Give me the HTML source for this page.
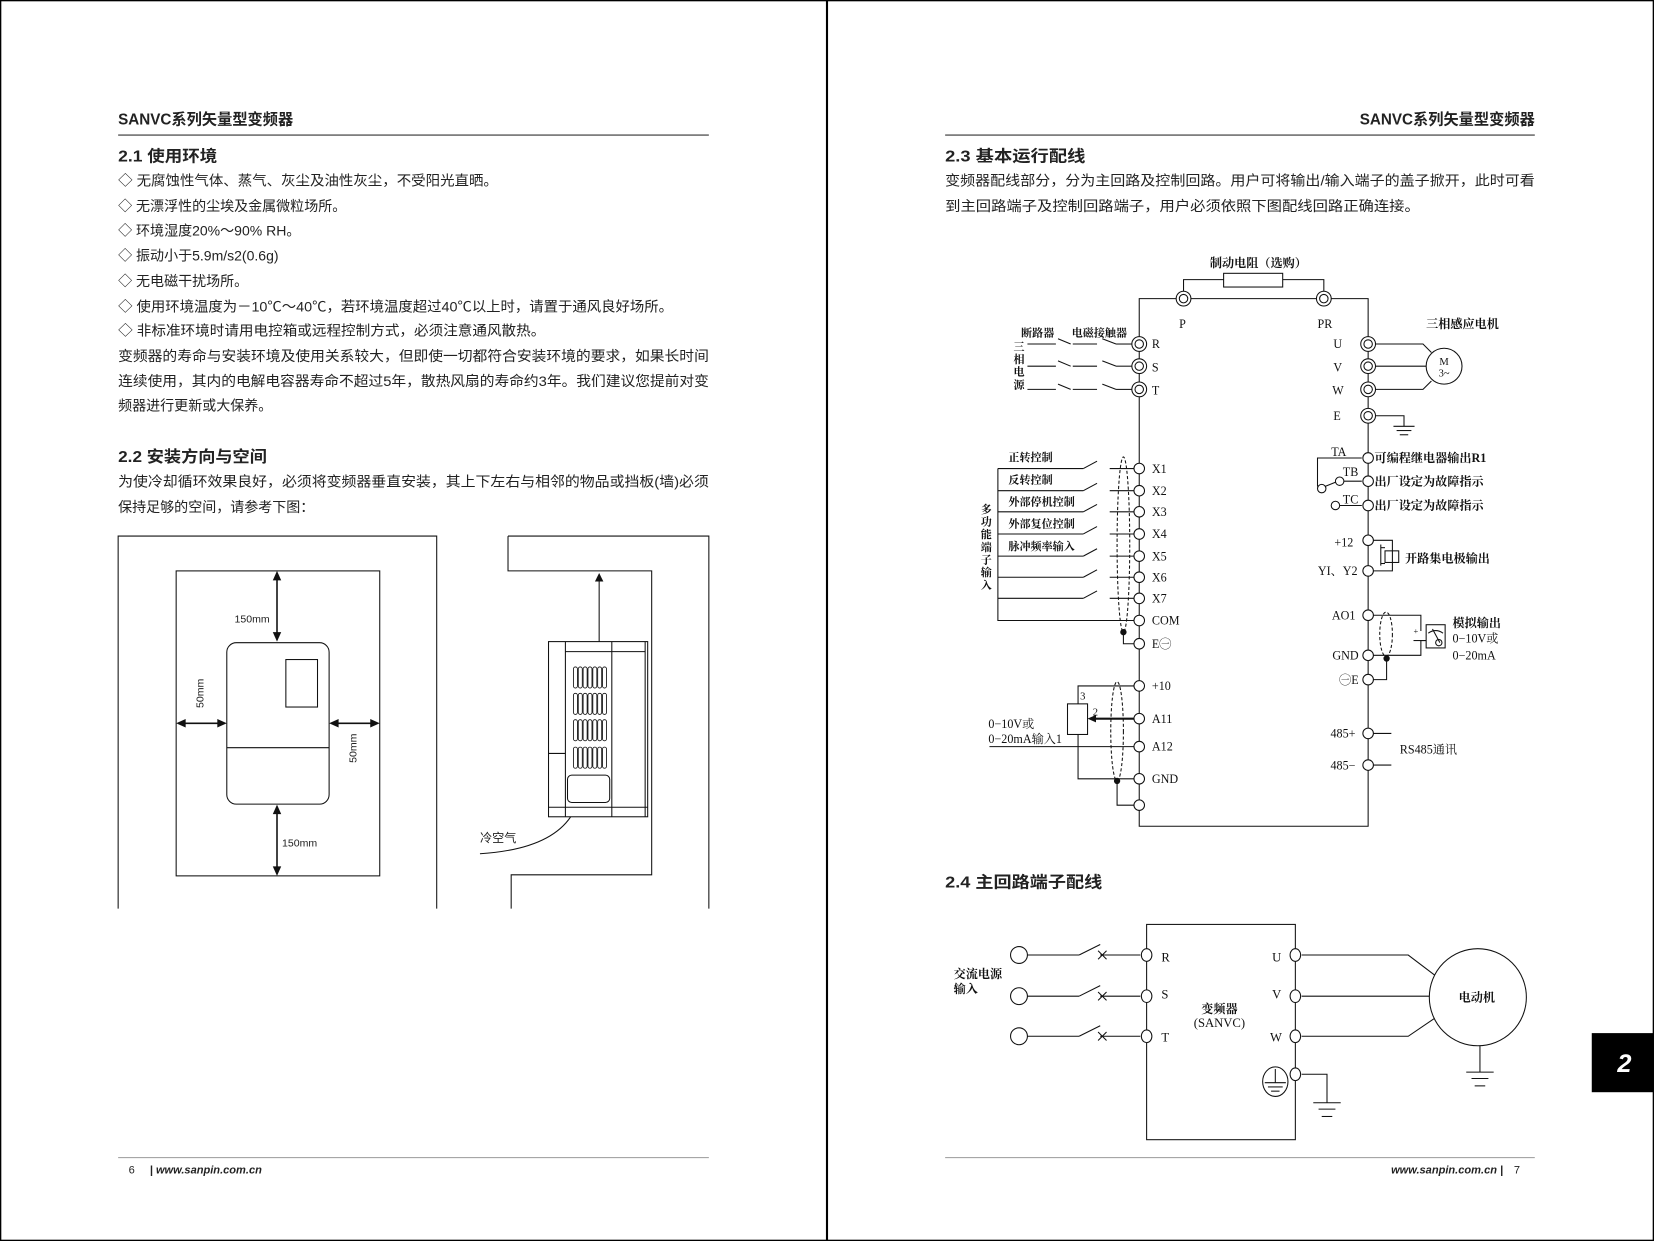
<!DOCTYPE html>
<html><head><meta charset="utf-8"><style>
html,body{margin:0;padding:0;background:#fff}
svg{display:block}
.s{font-family:"Liberation Sans","Noto Sans CJK SC",sans-serif;fill:#222}
.d{font-family:"Liberation Serif","Noto Serif CJK SC",serif;fill:#111}
</style></head><body>
<svg width="1654" height="1241" viewBox="0 0 1568 1176" preserveAspectRatio="none" xmlns="http://www.w3.org/2000/svg">
<rect x="0.5" y="0.5" width="1567" height="1175" fill="#fff" stroke="#000" stroke-width="1.5"/>
<line x1="784" y1="0" x2="784" y2="1176" stroke="#000" stroke-width="2"/>

<!-- LEFT PAGE -->
<g class="s">
<text x="112" y="118" font-size="14.5" font-weight="bold" textLength="166" lengthAdjust="spacingAndGlyphs">SANVC系列矢量型变频器</text>
<line x1="112" y1="128" x2="672" y2="128" stroke="#333" stroke-width="1"/>
<text x="112" y="153" font-size="15" font-weight="bold" textLength="94" lengthAdjust="spacingAndGlyphs">2.1 使用环境</text>
<g font-size="13.3">
<text x="112" y="176" textLength="360" lengthAdjust="spacingAndGlyphs">◇ 无腐蚀性气体、蒸气、灰尘及油性灰尘，不受阳光直晒。</text>
<text x="112" y="200">◇ 无漂浮性的尘埃及金属微粒场所。</text>
<text x="112" y="223">◇ 环境湿度20%～90% RH。</text>
<text x="112" y="247">◇ 振动小于5.9m/s2(0.6g)</text>
<text x="112" y="271">◇ 无电磁干扰场所。</text>
<text x="112" y="295" textLength="526" lengthAdjust="spacingAndGlyphs">◇ 使用环境温度为－10℃～40℃，若环境温度超过40℃以上时，请置于通风良好场所。</text>
<text x="112" y="318" textLength="405" lengthAdjust="spacingAndGlyphs">◇ 非标准环境时请用电控箱或远程控制方式，必须注意通风散热。</text>
<text x="112" y="342" textLength="560" lengthAdjust="spacingAndGlyphs">变频器的寿命与安装环境及使用关系较大，但即使一切都符合安装环境的要求，如果长时间</text>
<text x="112" y="366" textLength="560" lengthAdjust="spacingAndGlyphs">连续使用，其内的电解电容器寿命不超过5年，散热风扇的寿命约3年。我们建议您提前对变</text>
<text x="112" y="389">频器进行更新或大保养。</text>
</g>
<text x="112" y="438" font-size="15" font-weight="bold" textLength="141" lengthAdjust="spacingAndGlyphs">2.2 安装方向与空间</text>
<text x="112" y="461" font-size="13.3" textLength="560" lengthAdjust="spacingAndGlyphs">为使冷却循环效果良好，必须将变频器垂直安装，其上下左右与相邻的物品或挡板(墙)必须</text>
<text x="112" y="485" font-size="13.3">保持足够的空间，请参考下图：</text>
</g>

<g fill="none" stroke="#111" stroke-width="1">
<polyline points="112,861 112,508 414,508 414,861"/>
<rect x="167" y="541" width="193" height="289"/>
<rect x="215" y="609" width="97" height="153" rx="9"/>
<rect x="271" y="625" width="30" height="45"/>
<line x1="215" y1="708.5" x2="312" y2="708.5"/>
<line x1="262.6" y1="546" x2="262.6" y2="603" stroke-width="1.5"/>
<line x1="262.6" y1="768" x2="262.6" y2="825" stroke-width="1.5"/>
<line x1="172" y1="685.4" x2="210" y2="685.4" stroke-width="1.5"/>
<line x1="317" y1="685.4" x2="355" y2="685.4" stroke-width="1.5"/>
<polyline points="481.6,508 672,508 672,861"/>
<polyline points="481.6,508 481.6,541 617.8,541 617.8,829 484.6,829 484.6,861"/>
<rect x="520" y="608" width="94" height="166"/>
<line x1="536" y1="608" x2="536" y2="774"/>
<line x1="580" y1="608" x2="580" y2="774"/>
<line x1="611.6" y1="608" x2="611.6" y2="774"/>
<line x1="536" y1="617.5" x2="611.6" y2="617.5"/>
<line x1="520" y1="765" x2="614" y2="765"/>
<line x1="520" y1="714" x2="536" y2="714"/>
<rect x="538" y="734.5" width="40" height="26" rx="4"/>
<line x1="568" y1="608" x2="568" y2="548"/>
<path d="M455,809 Q520,805 541,774"/>
</g>
<g fill="#111">
<polygon points="262.6,541 258.6,550 266.6,550"/>
<polygon points="262.6,608 258.6,599 266.6,599"/>
<polygon points="262.6,762.5 258.6,771.5 266.6,771.5"/>
<polygon points="262.6,830 258.6,821 266.6,821"/>
<polygon points="167,685.4 176,681.4 176,689.4"/>
<polygon points="215,685.4 206,681.4 206,689.4"/>
<polygon points="312,685.4 321,681.4 321,689.4"/>
<polygon points="360,685.4 351,681.4 351,689.4"/>
<polygon points="568,543 564,551 572,551"/>
</g>
<g fill="none" stroke="#111" stroke-width="0.8" id="vents">
</g>
<g class="s" font-size="10" fill="#222">
<text x="239" y="590" text-anchor="middle">150mm</text>
<text x="284" y="802" text-anchor="middle">150mm</text>
<text transform="translate(193,657) rotate(-90)" text-anchor="middle">50mm</text>
<text transform="translate(338,709) rotate(-90)" text-anchor="middle">50mm</text>
<text x="455" y="798" font-size="11.5">冷空气</text>
</g>

<line x1="112" y1="1097" x2="672" y2="1097" stroke="#999" stroke-width="1"/>
<text x="122" y="1112" class="s" font-size="10.5" fill="#222">6</text>
<text x="142" y="1112" class="s" font-size="10.5" fill="#aaa" font-style="italic" font-weight="bold">| www.sanpin.com.cn</text>

<!-- RIGHT PAGE -->
<g class="s">
<text x="1455" y="118" font-size="14.5" font-weight="bold" text-anchor="end" textLength="166" lengthAdjust="spacingAndGlyphs">SANVC系列矢量型变频器</text>
<line x1="896" y1="128" x2="1455" y2="128" stroke="#333" stroke-width="1"/>
<text x="896" y="153" font-size="15" font-weight="bold" textLength="133" lengthAdjust="spacingAndGlyphs">2.3  基本运行配线</text>
<text x="896" y="176" font-size="13.3" textLength="559" lengthAdjust="spacingAndGlyphs">变频器配线部分，分为主回路及控制回路。用户可将输出/输入端子的盖子掀开，此时可看</text>
<text x="896" y="200" font-size="13.3" textLength="450" lengthAdjust="spacingAndGlyphs">到主回路端子及控制回路端子，用户必须依照下图配线回路正确连接。</text>
<text x="896" y="841" font-size="15" font-weight="bold" textLength="149" lengthAdjust="spacingAndGlyphs">2.4   主回路端子配线</text>
</g>
<line x1="896" y1="1097" x2="1455" y2="1097" stroke="#999" stroke-width="1"/>
<text x="1425" y="1112" class="s" font-size="10.5" fill="#aaa" font-style="italic" font-weight="bold" text-anchor="end">www.sanpin.com.cn |</text>
<text x="1441" y="1112" class="s" font-size="10.5" fill="#222" text-anchor="end">7</text>

<rect x="1509" y="979" width="59" height="56" fill="#000"/>
<text x="1540" y="1016" font-family="Liberation Sans,sans-serif" font-weight="bold" font-style="italic" font-size="24" fill="#fff" text-anchor="middle">2</text>

<!-- control wiring diagram -->
<g fill="none" stroke="#111" stroke-width="1">
<polyline points="1080,326 1080,283 1297,283 1297,783 1080,783 1080,326"/>
<polyline points="1122,276 1122,265 1160,265"/>
<polyline points="1216,265 1255,265 1255,276"/>
<rect x="1160" y="259" width="56" height="13"/>
<g>
<line x1="974" y1="326" x2="1001" y2="326"/><line x1="1003" y1="321" x2="1015" y2="326"/><line x1="1017" y1="326" x2="1040" y2="326"/><line x1="1045" y1="321" x2="1058" y2="326"/><line x1="1058" y1="326" x2="1073" y2="326"/>
<line x1="974" y1="347" x2="1001" y2="347"/><line x1="1003" y1="342" x2="1015" y2="347"/><line x1="1017" y1="347" x2="1040" y2="347"/><line x1="1045" y1="342" x2="1058" y2="347"/><line x1="1058" y1="347" x2="1073" y2="347"/>
<line x1="974" y1="369" x2="1001" y2="369"/><line x1="1003" y1="364" x2="1015" y2="369"/><line x1="1017" y1="369" x2="1040" y2="369"/><line x1="1045" y1="364" x2="1058" y2="369"/><line x1="1058" y1="369" x2="1073" y2="369"/>
</g>
<polyline points="1075,588 946,588 946,444"/>
<g>
<line x1="946" y1="444" x2="1027" y2="444"/><line x1="1027" y1="444" x2="1040" y2="437"/><line x1="1052" y1="444" x2="1075" y2="444"/>
<line x1="946" y1="465" x2="1027" y2="465"/><line x1="1027" y1="465" x2="1040" y2="458"/><line x1="1052" y1="465" x2="1075" y2="465"/>
<line x1="946" y1="485" x2="1027" y2="485"/><line x1="1027" y1="485" x2="1040" y2="478"/><line x1="1052" y1="485" x2="1075" y2="485"/>
<line x1="946" y1="506" x2="1027" y2="506"/><line x1="1027" y1="506" x2="1040" y2="499"/><line x1="1052" y1="506" x2="1075" y2="506"/>
<line x1="946" y1="527" x2="1027" y2="527"/><line x1="1027" y1="527" x2="1040" y2="520"/><line x1="1052" y1="527" x2="1075" y2="527"/>
<line x1="946" y1="547" x2="1027" y2="547"/><line x1="1027" y1="547" x2="1040" y2="540"/><line x1="1052" y1="547" x2="1075" y2="547"/>
<line x1="946" y1="567" x2="1027" y2="567"/><line x1="1027" y1="567" x2="1040" y2="560"/><line x1="1052" y1="567" x2="1075" y2="567"/>
</g>
<ellipse cx="1065" cy="516" rx="6" ry="83" stroke-dasharray="3,2"/>
<polyline points="1065,599 1065,610 1075,610"/>
<polyline points="1075,650 1022,650 1022,667"/>
<rect x="1012" y="667" width="19" height="29"/>
<polyline points="1022,696 1022,738 1075,738"/>
<line x1="1034" y1="681" x2="1075" y2="681" stroke-width="2"/>
<line x1="938" y1="707.5" x2="1075" y2="707.5"/>
<ellipse cx="1059" cy="693" rx="6" ry="47" stroke-dasharray="3,2"/>
<polyline points="1059,740 1059,763 1075,763"/>
<polyline points="1304,326 1349,326 1357,334"/>
<line x1="1304" y1="347" x2="1352" y2="347"/>
<polyline points="1304,369 1349,369 1357,361"/>
<circle cx="1369" cy="347" r="17"/>
<polyline points="1304,394 1331,394 1331,404"/>
<line x1="1321" y1="404" x2="1341" y2="404"/><line x1="1324" y1="408" x2="1338" y2="408"/><line x1="1327" y1="412" x2="1335" y2="412"/>
<polyline points="1291,434 1249,434 1249,461"/>
<circle cx="1253" cy="463" r="4"/>
<line x1="1256" y1="461" x2="1266" y2="457"/>
<circle cx="1270" cy="456" r="4"/>
<line x1="1274" y1="456" x2="1291" y2="456"/>
<circle cx="1266" cy="479" r="4"/>
<line x1="1270" y1="479" x2="1291" y2="479"/>
<polyline points="1302,512 1320,512 1320,541 1302,541"/>
<rect x="1313" y="522" width="13" height="11"/>
<line x1="1309" y1="516" x2="1309" y2="536"/>
<polyline points="1309,519 1313,519"/><polyline points="1309,534 1313,534"/>
<polyline points="1302,583 1347,583 1347,598"/>
<polyline points="1302,621 1347,621 1347,607 1352,607"/>
<line x1="1340" y1="607" x2="1347" y2="607"/>
<rect x="1352" y="592" width="18" height="22"/>
<path d="M1354,600 Q1361,595 1368,600" />
<line x1="1358" y1="596" x2="1365" y2="609"/>
<circle cx="1364" cy="609" r="3"/>
<ellipse cx="1314" cy="601" rx="6" ry="21" stroke-dasharray="3,2"/>
<polyline points="1314.5,624 1314.5,644 1302,644"/>
<line x1="1302" y1="695" x2="1319" y2="695"/>
<line x1="1302" y1="725" x2="1319" y2="725"/>
</g>
<g fill="#fff" stroke="#111" stroke-width="1">
<circle cx="1122" cy="283" r="7"/><circle cx="1122" cy="283" r="4"/>
<circle cx="1255" cy="283" r="7"/><circle cx="1255" cy="283" r="4"/>
<circle cx="1080" cy="326" r="7"/><circle cx="1080" cy="326" r="4"/>
<circle cx="1080" cy="347" r="7"/><circle cx="1080" cy="347" r="4"/>
<circle cx="1080" cy="369" r="7"/><circle cx="1080" cy="369" r="4"/>
<circle cx="1297" cy="326" r="7"/><circle cx="1297" cy="326" r="4"/>
<circle cx="1297" cy="347" r="7"/><circle cx="1297" cy="347" r="4"/>
<circle cx="1297" cy="369" r="7"/><circle cx="1297" cy="369" r="4"/>
<circle cx="1297" cy="394" r="7"/><circle cx="1297" cy="394" r="4"/>
<circle cx="1080" cy="444" r="5"/><circle cx="1080" cy="465" r="5"/><circle cx="1080" cy="485" r="5"/><circle cx="1080" cy="506" r="5"/><circle cx="1080" cy="527" r="5"/><circle cx="1080" cy="547" r="5"/><circle cx="1080" cy="567" r="5"/><circle cx="1080" cy="588" r="5"/><circle cx="1080" cy="610" r="5"/>
<circle cx="1080" cy="650" r="5"/><circle cx="1080" cy="681" r="5"/><circle cx="1080" cy="707.5" r="5"/><circle cx="1080" cy="738" r="5"/><circle cx="1080" cy="763" r="5"/>
<circle cx="1297" cy="434" r="5"/><circle cx="1297" cy="456" r="5"/><circle cx="1297" cy="479" r="5"/>
<circle cx="1297" cy="512" r="5"/><circle cx="1297" cy="541" r="5"/>
<circle cx="1297" cy="583" r="5"/><circle cx="1297" cy="621" r="5"/><circle cx="1297" cy="644" r="5"/>
<circle cx="1297" cy="695" r="5"/><circle cx="1297" cy="725" r="5"/>
</g>
<g fill="#111">
<circle cx="1065" cy="599" r="3"/><circle cx="1059" cy="740" r="3"/><circle cx="1314.5" cy="624" r="3"/>
<polygon points="1031,681 1039,677.5 1039,684.5"/>
</g>
<g class="d" font-size="11.5" font-weight="bold">
<text x="1193" y="253" text-anchor="middle">制动电阻（选购）</text>
<text x="1121" y="311" text-anchor="middle" font-weight="normal">P</text><text x="1256" y="311" text-anchor="middle" font-weight="normal">PR</text>
<text x="968" y="319" font-size="10.5">断路器</text><text x="1016" y="319" font-size="10.5">电磁接触器</text>
<g font-size="10.5" text-anchor="middle"><text x="966" y="332">三</text><text x="966" y="344">相</text><text x="966" y="356">电</text><text x="966" y="368">源</text></g>
<g font-weight="normal">
<text x="1092" y="330">R</text><text x="1092" y="352">S</text><text x="1092" y="374">T</text>
<text x="1264" y="330">U</text><text x="1264" y="352">V</text><text x="1263" y="374">W</text><text x="1264" y="398">E</text>
<text x="1369" y="346" text-anchor="middle" font-size="10">M</text><text x="1369" y="357" text-anchor="middle" font-size="10">3~</text>
</g>
<text x="1352" y="311">三相感应电机</text>
<g font-size="10.5"><text x="956" y="437">正转控制</text><text x="956" y="458">反转控制</text><text x="956" y="479">外部停机控制</text><text x="956" y="500">外部复位控制</text><text x="956" y="521">脉冲频率输入</text></g>
<g font-size="10.5" text-anchor="middle"><text x="935" y="486">多</text><text x="935" y="498">功</text><text x="935" y="510">能</text><text x="935" y="522">端</text><text x="935" y="534">子</text><text x="935" y="546">输</text><text x="935" y="558">入</text></g>
<g font-weight="normal">
<text x="1092" y="448">X1</text><text x="1092" y="469">X2</text><text x="1092" y="489">X3</text><text x="1092" y="510">X4</text><text x="1092" y="531">X5</text><text x="1092" y="551">X6</text><text x="1092" y="571">X7</text><text x="1092" y="592">COM</text><text x="1092" y="614">E㊀</text>
<text x="1092" y="654">+10</text><text x="1092" y="685">A11</text><text x="1092" y="711">A12</text><text x="1092" y="742">GND</text>
<text x="1024" y="663" font-size="10">3</text><text x="1036" y="678" font-size="10">2</text>
<text x="937" y="690">0−10V或</text><text x="937" y="704">0−20mA输入1</text>
<text x="1262" y="432">TA</text><text x="1273" y="451">TB</text><text x="1273" y="477">TC</text>
<text x="1283" y="518" text-anchor="end">+12</text><text x="1287" y="545" text-anchor="end">YI、Y2</text>
<text x="1285" y="587" text-anchor="end">AO1</text><text x="1288" y="625" text-anchor="end">GND</text><text x="1288" y="648" text-anchor="end">㊀E</text>
<text x="1340" y="601" font-size="8">+</text>
<text x="1377" y="609">0−10V或</text><text x="1377" y="625">0−20mA</text>
<text x="1285" y="699" text-anchor="end">485+</text><text x="1285" y="729" text-anchor="end">485−</text>
<text x="1327" y="714">RS485通讯</text>
</g>
<text x="1303" y="438">可编程继电器输出R1</text><text x="1303" y="460">出厂设定为故障指示</text><text x="1303" y="483">出厂设定为故障指示</text>
<text x="1332" y="533">开路集电极输出</text>
<text x="1377" y="594">模拟输出</text>
</g>

<!-- main circuit diagram -->
<g fill="none" stroke="#111" stroke-width="1">
<rect x="1087" y="876" width="141" height="204"/>
<g>
<circle cx="966" cy="905" r="8"/><line x1="974" y1="905" x2="1023" y2="905"/><line x1="1023" y1="905" x2="1043" y2="895"/><line x1="1043" y1="905" x2="1081" y2="905"/><path d="M1041,901 L1049,909 M1049,901 L1041,909"/>
<circle cx="966" cy="944" r="8"/><line x1="974" y1="944" x2="1023" y2="944"/><line x1="1023" y1="944" x2="1043" y2="934"/><line x1="1043" y1="944" x2="1081" y2="944"/><path d="M1041,940 L1049,948 M1049,940 L1041,948"/>
<circle cx="966" cy="982" r="8"/><line x1="974" y1="982" x2="1023" y2="982"/><line x1="1023" y1="982" x2="1043" y2="972"/><line x1="1043" y1="982" x2="1081" y2="982"/><path d="M1041,978 L1049,986 M1049,978 L1041,986"/>
</g>
<polyline points="1234,905 1335,905 1360,924"/>
<line x1="1234" y1="944" x2="1355" y2="944"/>
<polyline points="1234,982 1335,982 1360,965"/>
<circle cx="1401" cy="945" r="46"/>
<line x1="1403" y1="991" x2="1403" y2="1016"/>
<line x1="1390" y1="1016" x2="1416" y2="1016"/><line x1="1395" y1="1022" x2="1411" y2="1022"/><line x1="1398" y1="1029" x2="1408" y2="1029"/>
<polyline points="1234,1018 1258,1018 1258,1045"/>
<line x1="1245" y1="1045" x2="1271" y2="1045"/><line x1="1250" y1="1051" x2="1266" y2="1051"/><line x1="1253" y1="1058" x2="1263" y2="1058"/>
<ellipse cx="1209" cy="1025" rx="12" ry="14"/>
<line x1="1209" y1="1013" x2="1209" y2="1026"/><line x1="1199" y1="1026" x2="1219" y2="1026"/><line x1="1202" y1="1030" x2="1216" y2="1030"/><line x1="1205" y1="1034" x2="1213" y2="1034"/>
</g>
<g fill="#fff" stroke="#111" stroke-width="1">
<ellipse cx="1087" cy="905" rx="5" ry="6"/><ellipse cx="1087" cy="944" rx="5" ry="6"/><ellipse cx="1087" cy="982" rx="5" ry="6"/>
<ellipse cx="1228" cy="905" rx="5" ry="6"/><ellipse cx="1228" cy="944" rx="5" ry="6"/><ellipse cx="1228" cy="982" rx="5" ry="6"/><ellipse cx="1228" cy="1018" rx="5" ry="6"/>
</g>
<g class="d" font-size="12">
<text x="1101" y="911">R</text><text x="1101" y="946">S</text><text x="1101" y="987">T</text>
<text x="1206" y="911">U</text><text x="1206" y="946">V</text><text x="1204" y="987">W</text>
<text x="904" y="927" font-size="11.5" font-weight="bold">交流电源</text><text x="904" y="941" font-size="11.5" font-weight="bold">输入</text>
<text x="1156" y="960" text-anchor="middle" font-size="11.5" font-weight="bold">变频器</text>
<text x="1156" y="973" text-anchor="middle" font-size="12">(SANVC)</text>
<text x="1400" y="949" text-anchor="middle" font-size="11.5" font-weight="bold">电动机</text>
</g>
</svg>
<script>
(function(){var g=document.getElementById('vents');var ns='http://www.w3.org/2000/svg';
var rows=[632,657,682,708];for(var r=0;r<4;r++){for(var i=0;i<7;i++){var e=document.createElementNS(ns,'rect');
e.setAttribute('x',543.6+i*4.6);e.setAttribute('y',rows[r]);e.setAttribute('width',3.8);e.setAttribute('height',20);e.setAttribute('rx',1.9);g.appendChild(e);}}})();
</script>
</body></html>
